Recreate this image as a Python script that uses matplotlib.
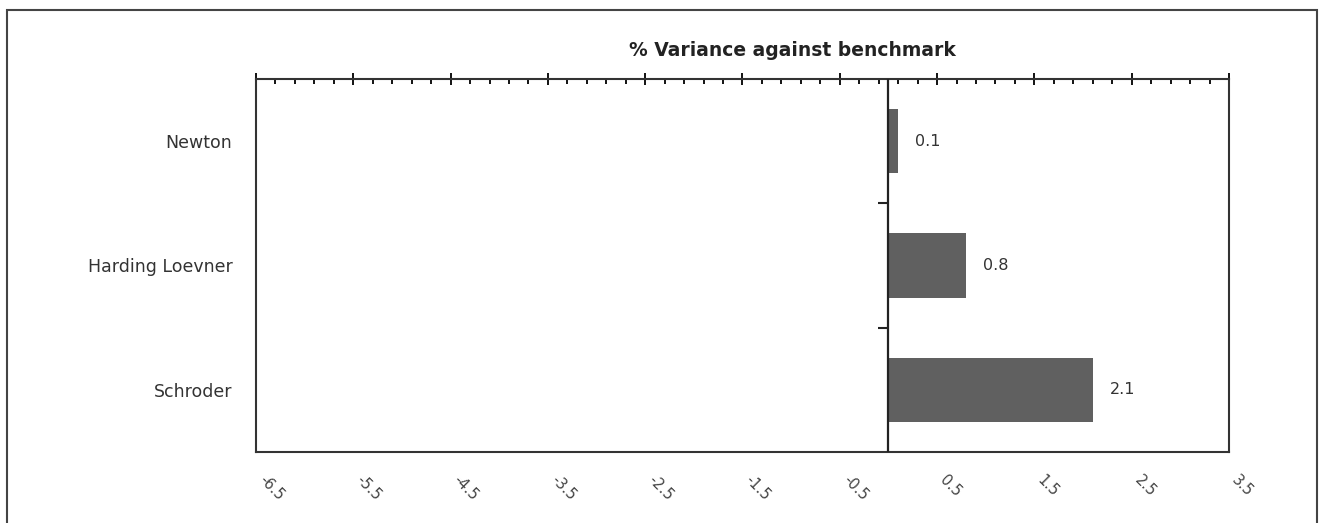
import matplotlib.pyplot as plt
import matplotlib.patches as patches
import numpy as np

# du lieu
managers = ['Newton', 'Harding Loevner', 'Schroder']
variance = [0.1, 0.8, 2.1]
xticks = [-6.5, -5.5, -4.5, -3.5, -2.5, -1.5, -0.5, 0.5, 1.5, 2.5, 3.5]
xtick_labels = ['-6.5', '-5.5', '-4.5', '-3.5', '-2.5', '-1.5', '-0.5', '0.5', '1.5', '2.5', '3.5']

plt.rcParams['font.family'] = ['DejaVu Sans']

fig = plt.figure(figsize=(13.24, 5.23), dpi=100)
ax = fig.add_axes([256/1324, 1-452/523, (1229-256)/1324, (452-79)/523])

ypos = np.arange(len(managers))
ax.barh(ypos, variance, height=0.52, color='#606060', zorder=2)
for y, v in zip(ypos, variance):
    ax.annotate(str(v), xy=(v, y), xytext=(12, 0), textcoords='offset points',
                va='center', ha='left', fontsize=11.5, color='#333333')

ax.set_xlim(-6.5, 3.5)
ax.set_ylim(-0.5, 2.5)
ax.invert_yaxis()

# duong zero va cac vach chia nhom
ax.axvline(0, color='#222222', lw=1.6, zorder=3)
seps = ypos[:-1] + 0.5
ax.plot(np.zeros(len(seps)), seps, ls='none', marker=0, markersize=7,
        mew=1.5, color='#222222', clip_on=False, zorder=3)

ax.set_xticks(xticks)
ax.set_xticklabels(xtick_labels, rotation=-45, ha='left', va='top',
                   fontsize=10.5, color='#444444')
ax.set_xticks(np.arange(-6.5, 3.51, 0.2), minor=True)
ax.tick_params(axis='x', which='major', top=True, bottom=False, labeltop=False,
               labelbottom=True, direction='inout', length=9, width=1.3, pad=10)
ax.tick_params(axis='x', which='minor', top=True, bottom=False,
               direction='in', length=3.5, width=1.3)

ax.set_yticks(ypos)
ax.set_yticklabels(managers, fontsize=12.5, color='#333333')
ax.tick_params(axis='y', length=0, pad=17)

for s in ax.spines.values():
    s.set_linewidth(1.5)
    s.set_color('#333333')

fig.text(792/1324, 1-50/523, '% Variance against benchmark', ha='center', va='center',
         fontsize=13.5, fontweight='bold', color='#222222')

# khung ngoai
fig.patches.append(patches.Rectangle((7/1324, -0.05), (1317-7)/1324, 1.05-10/523,
                                     transform=fig.transFigure, fill=False,
                                     lw=1.5, edgecolor='#444444'))

fig.savefig('out.png', dpi=100)
